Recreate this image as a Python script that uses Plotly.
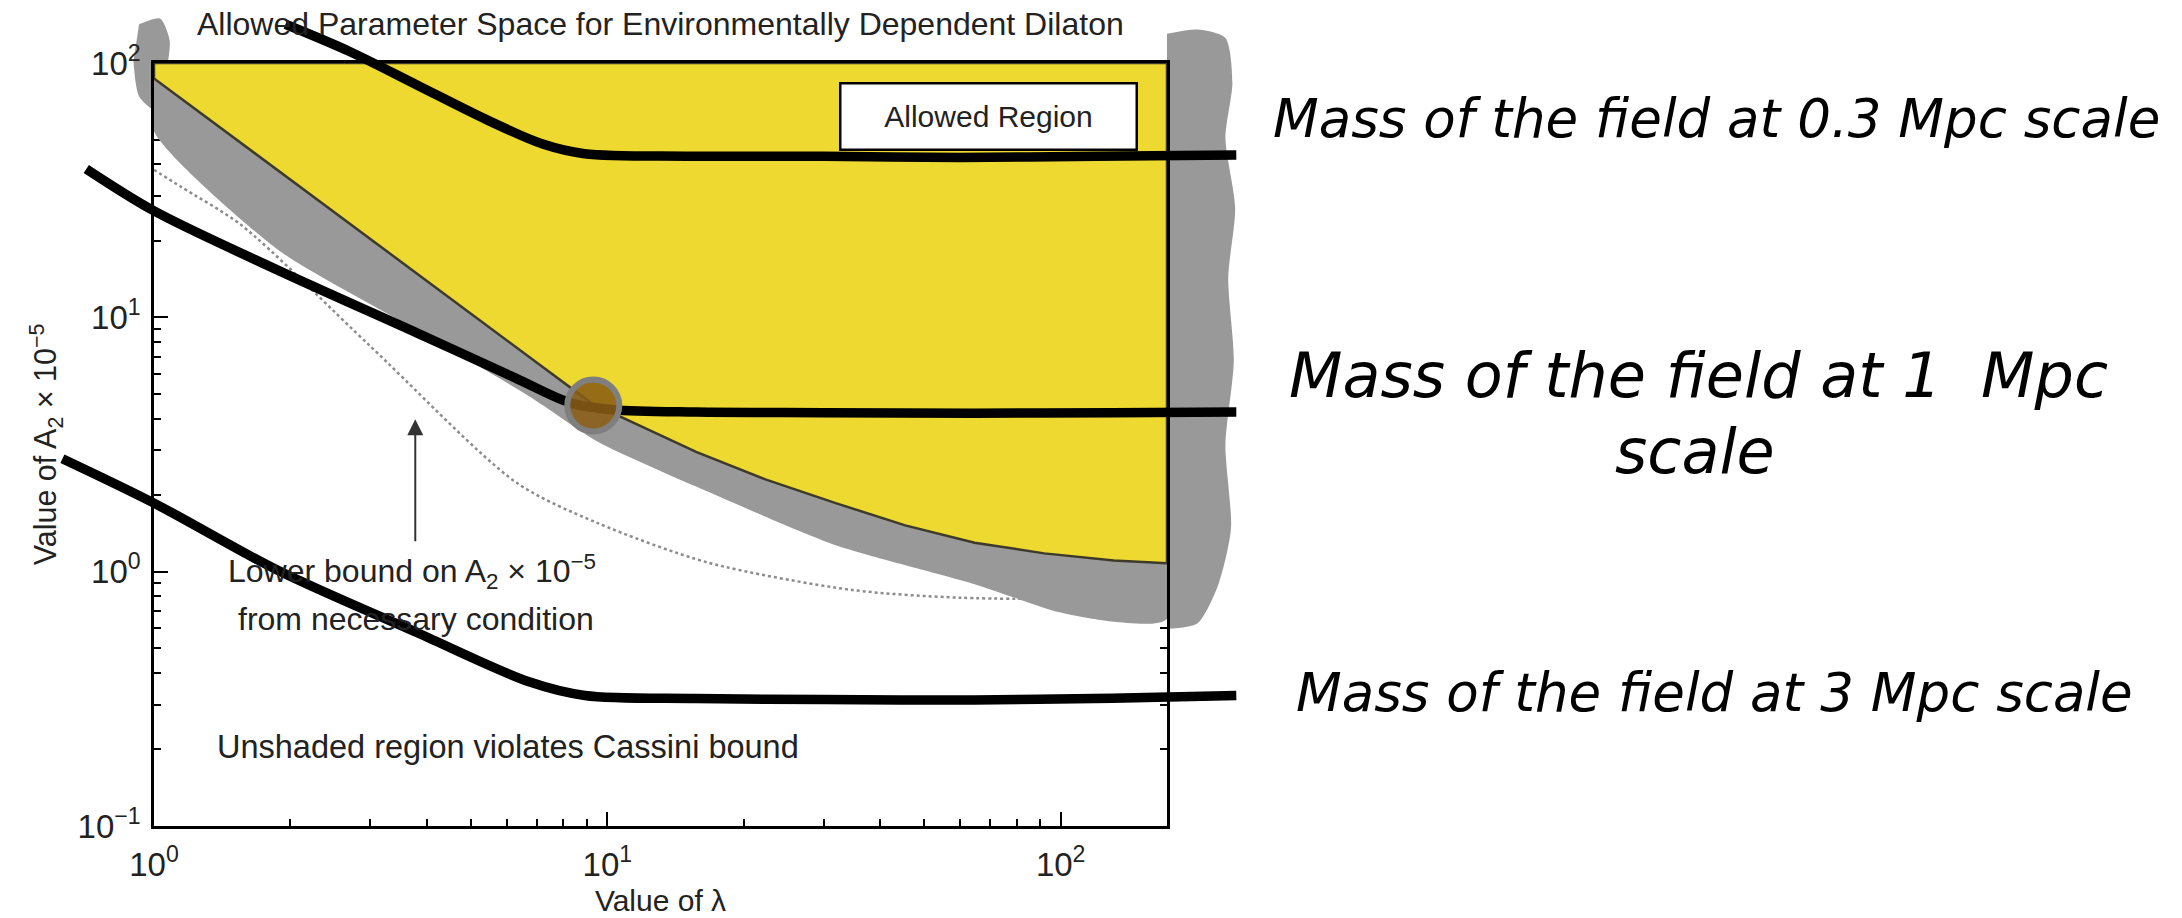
import math
import plotly.graph_objects as go

# ---------------- data ----------------
# mass-of-field curves (lambda, A2 x 1e-5)
lam_03 = [1.95, 2.7, 3.8, 5.4, 7.2, 8.9, 15, 30, 60, 120, 244]
a2_03 = [142, 111, 82, 60, 48, 44, 43, 43, 42.5, 43, 43.5]

lam_1 = [0.709, 1.0, 1.88, 3.82, 6.26, 8.31, 10.3, 15.7, 30, 64.6, 130, 244]
a2_1 = [38.3, 26.2, 15.3, 8.65, 5.78, 4.60, 4.33, 4.24, 4.22, 4.2, 4.22, 4.24]

lam_3 = [0.628, 1.0, 1.88, 3.82, 6.72, 8.92, 15.7, 30, 64.6, 130, 244]
a2_3 = [2.78, 1.86, 1.01, 0.574, 0.369, 0.326, 0.317, 0.314, 0.313, 0.318, 0.326]

# lower edge of the allowed (yellow) region
lam_bound = [1.0, 9.22, 15.7, 22.4, 31.9, 45.4, 64.6, 92, 131, 171.6]
a2_bound = [87, 4.60, 2.96, 2.30, 1.86, 1.52, 1.30, 1.18, 1.107, 1.08]

# lower edge of the grey band
lam_grey = [1.0, 1.88, 3.82, 6.72, 9.57, 15.7, 31.9, 64.6, 98.8, 131, 171.6]
a2_grey = [53.9, 18.4, 8.87, 4.90, 3.23, 2.16, 1.27, 0.893, 0.694, 0.636, 0.652]

# dotted lower bound from necessary condition
lam_lb = [1.0, 1.15, 1.56, 3.0, 6.3, 9.46, 16.7, 34.4, 60, 171.6]
a2_lb = [38, 32.5, 23, 7.7, 2.24, 1.56, 1.085, 0.849, 0.79, 0.78]

# grey scribbles outside the frame
lam_blob_r = [171.6, 200.4, 230.9, 239.2, 230.9, 242.6, 234.2, 240.9, 230.9, 237.5, 222.9, 200.4, 171.6]
a2_blob_r = [130.3, 135.4, 125.5, 83.8, 50.6, 26.9, 14.3, 6.72, 3.15, 1.48, 0.893, 0.627, 0.596]
lam_blob_l = [0.927, 1.031, 1.083, 1.053, 1.0095, 0.927, 0.901]
a2_blob_l = [142, 149.6, 122.4, 83.8, 65.1, 73.9, 101.3]

# highlighted point
lam_pt = [9.31]
a2_pt = [4.50]

# axis limits / ticks
x_lim = [1.0, 171.6]
y_lim = [0.1, 100]
y_top = 100
x_major = [1, 10, 100]
x_major_txt = ["10<sup>0</sup>", "10<sup>1</sup>", "10<sup>2</sup>"]
y_major = [0.1, 1, 10, 100]
y_major_txt = ["10<sup>−1</sup>", "10<sup>0</sup>", "10<sup>1</sup>", "10<sup>2</sup>"]
x_minor = [m * d for d in (1, 10) for m in range(2, 10)]
y_minor = [m * d for d in (0.1, 1, 10) for m in range(2, 10)]

# ---------------- layout geometry ----------------
W, H = 2182, 918
X0, X1 = 154, 1167      # plot box in pixels
Y0, Y1 = 63, 826
xr = [math.log10(x_lim[0]), math.log10(x_lim[1])]
yr = [math.log10(y_lim[0]), math.log10(y_lim[1])]
ppd_x = (X1 - X0) / (xr[1] - xr[0])
ppd_y = (Y1 - Y0) / (yr[1] - yr[0])
xfull = [xr[0] - X0 / ppd_x, xr[1] + (W - X1) / ppd_x]
yfull = [yr[0] - (H - Y1) / ppd_y, yr[1] + Y0 / ppd_y]
xdom = [X0 / W, X1 / W]
ydom = [(H - Y1) / H, (H - Y0) / H]

YELLOW = "#EDD92F"
GREY = "#999999"
TXT = "#222222"
FONT = "Liberation Sans, Arial, sans-serif"

fig = go.Figure()

# ---- layer 1 (x/y): full-figure axes, grey scribbles outside the frame ----
for bx, by in ((lam_blob_r, a2_blob_r), (lam_blob_l, a2_blob_l)):
    fig.add_trace(go.Scatter(x=bx, y=by, mode="lines", fill="toself", fillcolor=GREY,
                             line=dict(width=0, shape="spline", smoothing=0.7),
                             xaxis="x", yaxis="y", hoverinfo="skip", showlegend=False))

# ---- layer 2 (x2/y2): the framed plot ----
fig.add_trace(go.Scatter(x=lam_lb, y=a2_lb, mode="lines",
                         line=dict(color="#8c8c8c", width=2.5, dash="dot", shape="spline", smoothing=0.8),
                         xaxis="x2", yaxis="y2", hoverinfo="skip", showlegend=False))
gx = [x_lim[0]] + lam_grey + [x_lim[1]]
gy = [y_top] + a2_grey + [y_top]
fig.add_trace(go.Scatter(x=gx, y=gy, mode="lines", fill="toself", fillcolor=GREY,
                         line=dict(width=0, shape="spline", smoothing=0.6),
                         xaxis="x2", yaxis="y2", hoverinfo="skip", showlegend=False))
yx = [x_lim[0], x_lim[1]] + lam_bound[::-1] + [x_lim[0]]
yy = [y_top, y_top] + a2_bound[::-1] + [y_top]
fig.add_trace(go.Scatter(x=yx, y=yy, mode="lines", fill="toself", fillcolor=YELLOW,
                         line=dict(width=2.5, color="#3d3a2a"),
                         xaxis="x2", yaxis="y2", hoverinfo="skip", showlegend=False))

# ---- layer 3 (x3/y3): full-figure axes, the mass curves and the point ----
for lx, ly in ((lam_03, a2_03), (lam_1, a2_1), (lam_3, a2_3)):
    fig.add_trace(go.Scatter(x=lx, y=ly, mode="lines",
                             line=dict(color="black", width=9.5, shape="spline", smoothing=0.9),
                             xaxis="x3", yaxis="y3", hoverinfo="skip", showlegend=False))
fig.add_trace(go.Scatter(x=lam_pt, y=a2_pt, mode="markers",
                         marker=dict(size=52, color="rgba(138,92,20,0.88)",
                                     line=dict(color="#7f7f7f", width=6)),
                         xaxis="x3", yaxis="y3", hoverinfo="skip", showlegend=False))

axis_common = dict(type="log", showgrid=False, zeroline=False, showline=True,
                   linecolor="black", linewidth=2.5, mirror="ticks", layer="below traces",
                   ticks="inside", ticklen=14, tickwidth=2, tickcolor="black",
                   tickfont=dict(family=FONT, size=33, color=TXT), automargin=False,
                   fixedrange=True, tickmode="array")
hidden = dict(type="log", domain=[0, 1], visible=False, fixedrange=True)

fig.update_layout(
    width=W, height=H,
    margin=dict(l=0, r=0, t=0, b=0),
    paper_bgcolor="white", plot_bgcolor="rgba(0,0,0,0)",
    showlegend=False,
    xaxis=dict(hidden, range=xfull, anchor="y"),
    yaxis=dict(hidden, range=yfull, anchor="x"),
    xaxis2=dict(axis_common, domain=xdom, range=xr,
                tickvals=x_major, ticktext=x_major_txt, ticklabelstandoff=8,
                minor=dict(tickvals=x_minor, ticks="inside", ticklen=7, tickwidth=1.5, tickcolor="black"),
                title=dict(text="Value of λ", font=dict(family=FONT, size=30, color=TXT), standoff=8),
                anchor="y2"),
    yaxis2=dict(axis_common, domain=ydom, range=yr,
                tickvals=y_major, ticktext=y_major_txt, ticklabelstandoff=4,
                minor=dict(tickvals=y_minor, ticks="inside", ticklen=7, tickwidth=1.5, tickcolor="black"),
                title=dict(text="Value of A<sub>2</sub> × 10<sup>−5</sup>",
                           font=dict(family=FONT, size=30.5, color=TXT), standoff=12),
                anchor="x2"),
    xaxis3=dict(hidden, range=xfull, anchor="y3"),
    yaxis3=dict(hidden, range=yfull, anchor="x3"),
)

ann = []
# title
ann.append(dict(text="Allowed Parameter Space for Environmentally Dependent Dilaton",
                x=(X0 + X1) / 2 / W, y=1 - 24 / H, xref="paper", yref="paper",
                xanchor="center", yanchor="middle", showarrow=False,
                font=dict(family=FONT, size=32, color=TXT)))
# legend box
ann.append(dict(text="Allowed Region", x=988 / W, y=1 - 116 / H, xref="paper", yref="paper",
                xanchor="center", yanchor="middle", showarrow=False,
                width=288, height=58, bgcolor="white", bordercolor="black", borderwidth=2.5,
                borderpad=3, font=dict(family=FONT, size=30, color=TXT)))
# in-plot notes
ann.append(dict(text="Lower bound on A<sub>2</sub> × 10<sup>−5</sup>", x=412 / W, y=1 - 571 / H,
                xref="paper", yref="paper", xanchor="center", yanchor="middle", showarrow=False,
                font=dict(family=FONT, size=32, color=TXT)))
ann.append(dict(text="from necessary condition", x=416 / W, y=1 - 619 / H,
                xref="paper", yref="paper", xanchor="center", yanchor="middle", showarrow=False,
                font=dict(family=FONT, size=32, color=TXT)))
ann.append(dict(text="Unshaded region violates Cassini bound", x=508 / W, y=1 - 747 / H,
                xref="paper", yref="paper", xanchor="center", yanchor="middle", showarrow=False,
                font=dict(family=FONT, size=32.5, color=TXT)))
# arrow
ann.append(dict(text="", x=math.log10(3.77), y=math.log10(3.97), xref="x2", yref="y2",
                ax=math.log10(3.77), ay=math.log10(1.30), axref="x2", ayref="y2",
                showarrow=True, arrowhead=2, arrowsize=1.6, arrowwidth=2, arrowcolor="#333"))
# right-hand labels
RFONT = "DejaVu Sans, Verdana, sans-serif"
ann.append(dict(text="<i>Mass of the field at 0.3 Mpc scale</i>", x=1716 / W, y=1 - 118 / H,
                xref="paper", yref="paper", xanchor="center", yanchor="middle", showarrow=False,
                font=dict(family=RFONT, size=53, color="black")))
ann.append(dict(text="<i>Mass of the field at 1&nbsp; Mpc</i>", x=1698 / W, y=1 - 376 / H,
                xref="paper", yref="paper", xanchor="center", yanchor="middle", showarrow=False,
                font=dict(family=RFONT, size=62, color="black")))
ann.append(dict(text="<i>scale</i>", x=1695 / W, y=1 - 452 / H,
                xref="paper", yref="paper", xanchor="center", yanchor="middle", showarrow=False,
                font=dict(family=RFONT, size=62, color="black")))
ann.append(dict(text="<i>Mass of the field at 3 Mpc scale</i>", x=1714 / W, y=1 - 692 / H,
                xref="paper", yref="paper", xanchor="center", yanchor="middle", showarrow=False,
                font=dict(family=RFONT, size=53, color="black")))
fig.update_layout(annotations=ann)

fig.write_html("out.html")
